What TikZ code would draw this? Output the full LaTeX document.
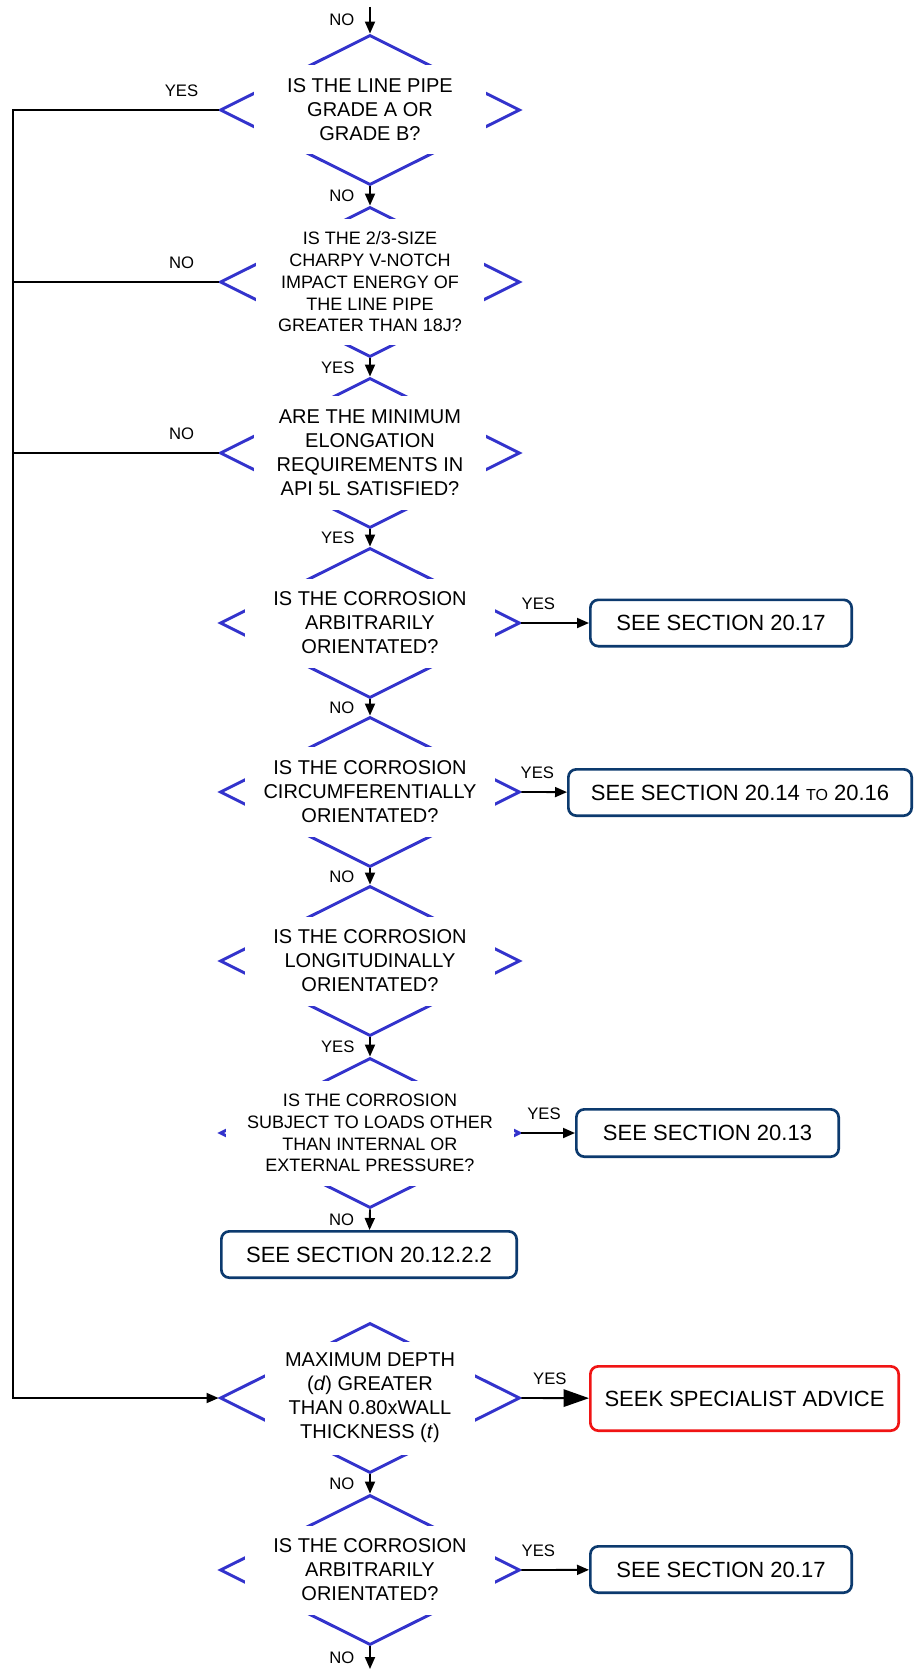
\documentclass[tikz,border=0pt]{standalone}
\usepackage{fontspec}
\setmainfont{Liberation Sans}
\usetikzlibrary{arrows.meta,shapes.geometric}
\definecolor{diablue}{RGB}{51,51,204}
\definecolor{boxblue}{RGB}{12,58,110}
\definecolor{warnred}{RGB}{240,20,20}

\begin{document}
\begin{tikzpicture}[
  x=0.75pt, y=-0.75pt,
  decision/.style={draw=diablue, line width=2.2pt, diamond, aspect=2, minimum width=225pt, minimum height=112.5pt, inner sep=0pt},
  qtext/.style={fill=white, align=center, inner sep=0pt, font=\fontsize{15}{18}\selectfont},
  qsmall/.style={qtext, font=\fontsize{13.5}{16.3}\selectfont},
  result/.style={draw=boxblue, line width=2pt, rounded corners=6pt, minimum height=34.75pt, align=center, font=\fontsize{16.5}{20}\selectfont},
  warn/.style={result, draw=warnred},
  flow/.style={-{Triangle[length=9pt, width=7.5pt]}, line width=1.4pt},
  rail/.style={line width=1.4pt},
  lbl/.style={font=\fontsize{12.5}{15}\selectfont, inner sep=2pt}
]
\useasboundingbox (0,0) rectangle (914,1669);
% decision outlines
\node[decision] (gradeab) at (370,110) {};
\node[decision] (charpy) at (370,282) {};
\node[decision] (elong) at (370,453) {};
\node[decision] (arbit) at (370,623) {};
\node[decision] (circ) at (370,792) {};
\node[decision] (longit) at (370,961) {};
\node[decision] (loads) at (370,1133) {};
\node[decision] (depth) at (370,1398) {};
\node[decision] (arbit2) at (370,1570) {};
% question texts
\node[qtext, minimum width=174pt, minimum height=66.75pt] (qgradeab) at (gradeab) {IS THE LINE PIPE\\GRADE A OR\\GRADE B?};
\node[qsmall, minimum width=171pt, minimum height=93.75pt] (qcharpy) at (charpy) {IS THE 2/3-SIZE\\CHARPY V-NOTCH\\IMPACT ENERGY OF\\THE LINE PIPE\\GREATER THAN 18J?};
\node[qtext, minimum width=174pt, minimum height=85.5pt] (qelong) at (elong) {ARE THE MINIMUM\\ELONGATION\\REQUIREMENTS IN\\API 5L SATISFIED?};
\node[qtext, minimum width=187.5pt, minimum height=66.75pt] (qarbit) at (arbit) {IS THE CORROSION\\ARBITRARILY\\ORIENTATED?};
\node[qtext, minimum width=188pt, minimum height=67.5pt] (qcirc) at (circ) {IS THE CORROSION\\CIRCUMFERENTIALLY\\ORIENTATED?};
\node[qtext, minimum width=187.5pt, minimum height=66.75pt] (qlongit) at (longit) {IS THE CORROSION\\LONGITUDINALLY\\ORIENTATED?};
\node[qsmall, minimum width=216pt, minimum height=78.75pt] (qloads) at (loads) {IS THE CORROSION\\SUBJECT TO LOADS OTHER\\THAN INTERNAL OR\\EXTERNAL PRESSURE?};
\node[qtext, minimum width=157.5pt, minimum height=84.75pt] (qdepth) at (depth) {MAXIMUM DEPTH\\(\textit{d}) GREATER\\THAN 0.80xWALL\\THICKNESS (\textit{t})};
\node[qtext, minimum width=187.5pt, minimum height=66.75pt] (qarbit2) at (arbit2) {IS THE CORROSION\\ARBITRARILY\\ORIENTATED?};
% outcomes
\node[result, minimum width=196pt] (sec17) at (721,623) {SEE SECTION 20.17};
\node[result, minimum width=257.5pt] (sec14) at (740,792.5) {SEE SECTION 20.14 {\fontsize{12}{14}\selectfont TO} 20.16};
\node[result, minimum width=196.75pt, minimum height=35.5pt] (sec13) at (707.5,1133) {SEE SECTION 20.13};
\node[result, minimum width=221.5pt] (sec12) at (369,1254.5) {SEE SECTION 20.12.2.2};
\node[warn, minimum width=231.25pt, minimum height=48.25pt] (seek) at (744.5,1398.5) {SEEK SPECIALIST ADVICE};
\node[result, minimum width=196pt] (sec17b) at (721,1569.5) {SEE SECTION 20.17};
\coordinate (entry) at (370,7);
\coordinate (exit) at (370,1669);
\coordinate (railtop) at (13,110);
% main spine
\draw[flow] (entry) -- node[lbl, left=9pt]{NO} (gradeab.north);
\draw[flow] (gradeab.south) -- node[lbl, left=9pt]{NO} (charpy.north);
\draw[flow] (charpy.south) -- node[lbl, left=9pt]{YES} (elong.north);
\draw[flow] (elong.south) -- node[lbl, left=9pt]{YES} (arbit.north);
\draw[flow] (arbit.south) -- node[lbl, left=9pt]{NO} (circ.north);
\draw[flow] (circ.south) -- node[lbl, left=9pt]{NO} (longit.north);
\draw[flow] (longit.south) -- node[lbl, left=9pt]{YES} (loads.north);
\draw[flow] (loads.south) -- node[lbl, left=9pt]{NO} (sec12);
\draw[flow] (depth.south) -- node[lbl, left=9pt]{NO} (arbit2.north);
\draw[flow] (arbit2.south) -- node[lbl, left=9pt]{NO} (exit);
% side exits
\draw[flow] (arbit.east) -- node[lbl, above=7pt, pos=0.25]{YES} (sec17);
\draw[flow] (circ.east) -- node[lbl, above=7pt, pos=0.35]{YES} (sec14);
\draw[flow] (loads.east) -- node[lbl, above=7pt, pos=0.42]{YES} (sec13);
\draw[flow, -{Triangle[length=19pt, width=13pt]}] (depth.east) -- node[lbl, above=7pt, pos=0.42]{YES} (seek);
\draw[flow] (arbit2.east) -- node[lbl, above=7pt, pos=0.25]{YES} (sec17b);
% left rail
\draw[flow] (gradeab.west) -- node[lbl, above=7pt, pos=0.18]{YES} (railtop) |- (depth.west);
\draw[rail] (charpy.west) -- node[lbl, above=7pt, pos=0.18]{NO} (charpy.west -| railtop);
\draw[rail] (elong.west) -- node[lbl, above=7pt, pos=0.18]{NO} (elong.west -| railtop);
\end{tikzpicture}
\end{document}
